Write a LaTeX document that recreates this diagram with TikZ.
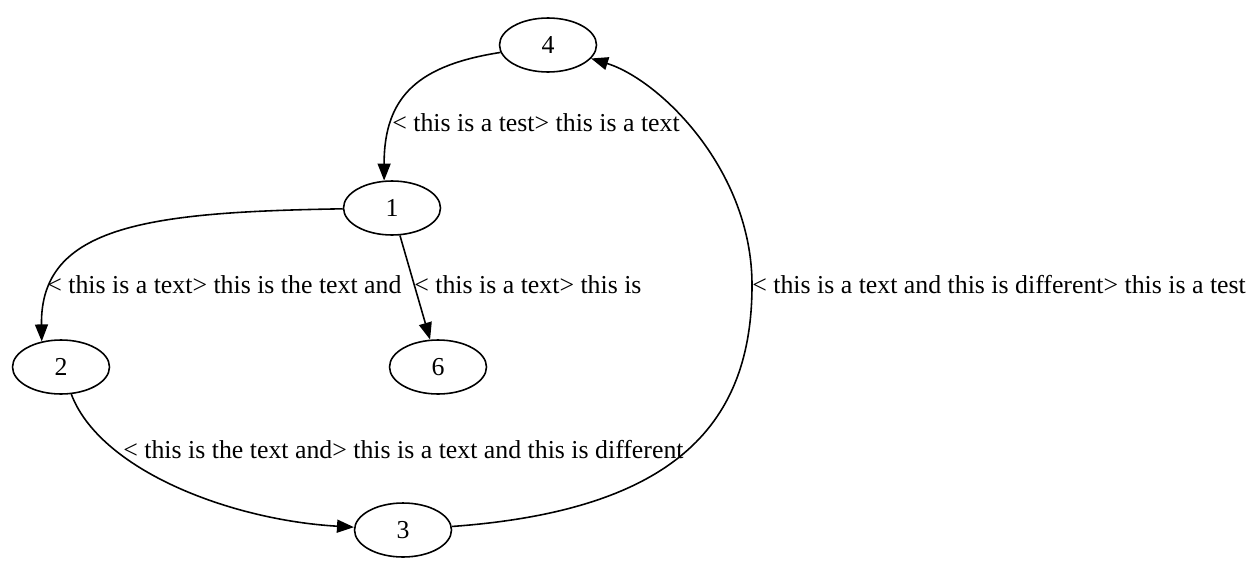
\documentclass[tikz,border=0pt]{standalone}
\usepackage{fontspec}
\setmainfont{Liberation Serif}
\usetikzlibrary{arrows.meta,shapes.geometric}

\begin{document}
\begin{tikzpicture}[x=0.02cm, y=-0.02cm, gnode/.style={draw=black, ellipse, line width=0.9pt, minimum width=1.94cm, minimum height=1.08cm, inner sep=0pt, font=\fontsize{14.7}{17}\selectfont}, glabel/.style={anchor=west, inner sep=0pt, font=\fontsize{14.7}{17}\selectfont}, arr/.style={-{Triangle[length=3.4mm, width=2.6mm]}, line width=0.9pt, draw=black}
]
  \useasboundingbox (0,0) rectangle (1260,568);
  \node[gnode] (n4) at (548,45) {4};
  \node[gnode] (n1) at (392,208) {1};
  \node[gnode] (n2) at (61,367) {2};
  \node[gnode] (n6) at (438,367) {6};
  \node[gnode] (n3) at (403,530) {3};
  \coordinate (bend) at (752,285);
  \node[glabel] (l41) at (392,123) {< this is a test> this is a text};
  \node[glabel] (l12) at (47,285) {< this is a text> this is the text and};
  \node[glabel] (l16) at (414,285) {< this is a text> this is};
  \node[glabel] (l23) at (123,450) {< this is the text and> this is a text and this is different};
  \node[glabel] (l34) at (752,285) {< this is a text and this is different> this is a test};
  \draw[arr] (n4) .. controls (420,65) and (384,95) .. (n1.106);
  \draw[arr] (n1) .. controls (150,212) and (40,225) .. (n2.127);
  \draw[arr] (n1) -- (n6);
  \draw[arr] (n2) .. controls (100,470) and (230,520) .. (n3);
  \draw[arr] (n3) .. controls (680,510) and (752,420) .. (bend)
    .. controls (752,170) and (660,80) .. (n4);
\end{tikzpicture}
\end{document}
